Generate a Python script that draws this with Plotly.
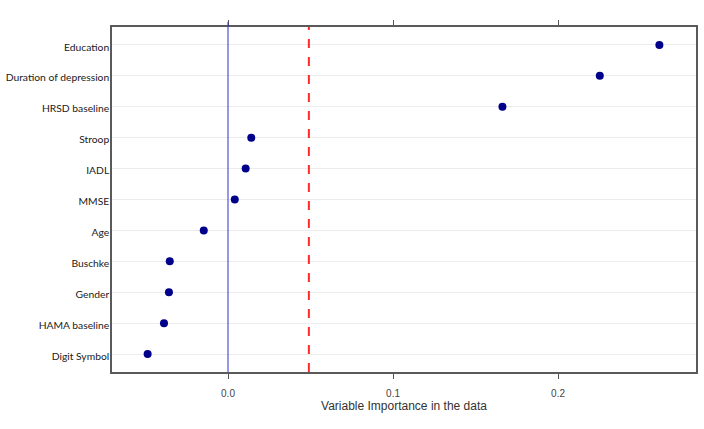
import plotly.graph_objects as go

# variables, bottom to top as drawn
variables = ['Digit Symbol', 'HAMA baseline', 'Gender', 'Buschke', 'Age', 'MMSE',
             'IADL', 'Stroop', 'HRSD baseline', 'Duration of depression', 'Education']
importance = [-0.0487, -0.0388, -0.0358, -0.0353, -0.0147, 0.0041,
              0.0107, 0.0141, 0.1663, 0.2253, 0.2614]
cutoff = 0.049

x_ticks = [0.0, 0.1, 0.2]
x_labels = ['0.0', '0.1', '0.2']

fig = go.Figure()
fig.add_trace(go.Scatter(x=importance, y=variables, mode='markers',
                         marker=dict(color='#00008b', size=8),
                         showlegend=False, cliponaxis=False))

# zero line and cut-off line
fig.add_shape(type='line', xref='x', yref='paper', x0=0, x1=0, y0=0, y1=1.015,
              line=dict(color='#3030d0', width=1))
fig.add_shape(type='line', xref='x', yref='paper', x0=cutoff, x1=cutoff, y0=0, y1=1,
              line=dict(color='#ff2a2a', width=2, dash='dash'))

fig.update_layout(
    width=704, height=429,
    margin=dict(l=112, r=8, t=27, b=57),
    paper_bgcolor='white', plot_bgcolor='white',
    font=dict(family='Liberation Sans, Arial', color='#333333'),
    xaxis=dict(range=[-0.0703, 0.2836], tickvals=x_ticks, ticktext=x_labels,
               automargin=False,
               showgrid=False, zeroline=False, ticks='outside', ticklen=5,
               tickcolor='#555555', tickfont=dict(size=10, color='#444444'),
               ticklabelstandoff=6,
               showline=True, linecolor='#5a5a5a', linewidth=1.5, mirror='allticks',
               title=dict(text='Variable Importance in the data',
                          font=dict(size=12, color='#333333'), standoff=4)),
    yaxis=dict(type='category', categoryorder='array', categoryarray=variables,
               automargin=False,
               range=[-0.58, 10.58], showgrid=True, gridcolor='#ececec', gridwidth=1,
               zeroline=False, ticks='', showline=True, linecolor='#5a5a5a',
               linewidth=1.5, mirror=True, ticklabelshift=2, ticklabelstandoff=-1,
               tickfont=dict(family='Lato, Open Sans', size=10.3, color='#1a1a1a')),
)

# drop the default page margin so the figure sits at the window corner
fig.write_html("out.html", config={'displayModeBar': False},
               post_script="document.body.style.margin='0';")
